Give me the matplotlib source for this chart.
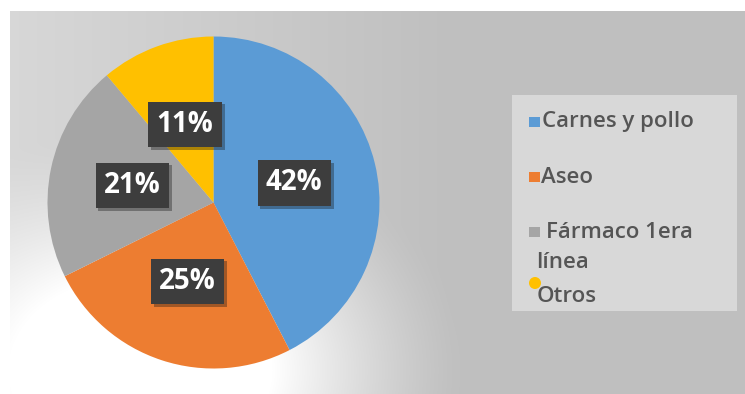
import matplotlib.pyplot as plt
import matplotlib.patheffects as pe
from matplotlib.patches import Rectangle, Circle
import numpy as np

plt.rcParams['font.family'] = ['Open Sans', 'DejaVu Sans']

# datos del gráfico
categorias = ['Carnes y pollo', 'Aseo', 'Fármaco 1era\nlínea', 'Otros']
porcentajes = [42, 25, 21, 11]
colores = ['#5B9BD5', '#ED7D31', '#A5A5A5', '#FFC000']

W, H = 745, 394
fig = plt.figure(figsize=(W / 100, H / 100), dpi=100)


def fx(px):
    return px / W


def fy(py):
    return 1 - py / H


# fondo gris con un brillo blanco bajo la torta
bg = fig.add_axes([0, 0, 1, 1])
yy, xx = np.mgrid[0:H, 0:W]
base = 0.845 - 0.095 * np.clip((xx - 10) / 440, 0, 1)
d = np.sqrt(((xx - 140) / 220) ** 2 + ((yy - 370) / 160) ** 2)
brillo = np.clip((1.5 - d) / 0.9, 0, 1) ** 1.5
gris = base + (1 - base) * brillo
gris[:11, :] = 1
gris[:, :10] = 1
bg.imshow(np.dstack([gris] * 3), extent=[0, W, H, 0], aspect='auto')
bg.set_axis_off()

# torta
cx, cy, r = 213.5, 202.5, 166
ax = fig.add_axes([fx(cx - r), fy(cy + r), 2 * r / W, 2 * r / H])
wedges, _, autotexts = ax.pie(
    porcentajes, colors=colores, startangle=90, counterclock=False,
    autopct=lambda p: f'{p:.0f}%', pctdistance=0.5,
    textprops=dict(color='white', fontsize=20, fontweight='bold'))
ax.set_xlim(-1, 1)
ax.set_ylim(-1, 1)
ax.set_axis_off()

for t in autotexts:
    t.set_bbox(dict(boxstyle='square,pad=0.3', fc='#3d3d3d', ec='none'))
    t.get_bbox_patch().set_path_effects(
        [pe.SimplePatchShadow(offset=(2, -2), alpha=0.35), pe.Normal()])

# leyenda
fig.add_artist(Rectangle((fx(512), fy(311)), fx(737) - fx(512), fy(95) - fy(311),
                         transform=fig.transFigure, fc='#d8d8d8', ec='none'))
texto = dict(color='#555555', fontsize=16, fontweight='semibold', va='center',
             transform=fig.transFigure)
filas = [(542, 122), (541, 177), (546, 232), (537, 296)]
for i, (nombre, col) in enumerate(zip(categorias, colores)):
    x, y = filas[i]
    if '\n' in nombre:
        a, b = nombre.split('\n')
        fig.text(fx(x), fy(y), a, **texto)
        fig.text(fx(536), fy(262), b, **texto)
    else:
        fig.text(fx(x), fy(y), nombre, **texto)
    if i < 3:
        fig.add_artist(Rectangle((fx(529), fy(y + 5)), fx(11), fy(0) - fy(10),
                                 transform=fig.transFigure, fc=col, ec='none'))
    else:
        fig.add_artist(Circle((535, H - 283), 6, transform=None, fc=col, ec='none'))

fig.savefig('out.png', dpi=100)
